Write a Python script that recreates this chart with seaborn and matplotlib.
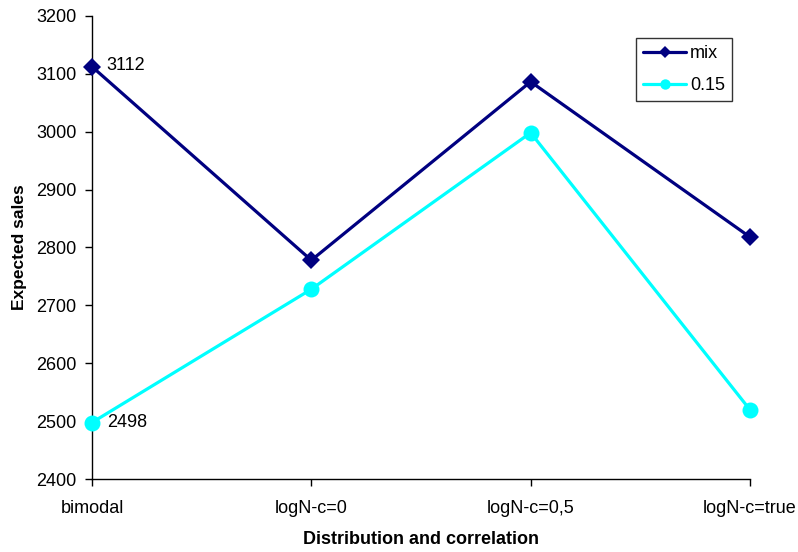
import matplotlib
matplotlib.use("Agg")
import matplotlib.pyplot as plt
import seaborn as sns
import pandas as pd

categories = ["bimodal", "logN-c=0", "logN-c=0,5", "logN-c=true"]
mix_values = [3112, 2778, 3086, 2818]
p015_values = [2498, 2728, 2998, 2520]
y_ticks = [2400, 2500, 2600, 2700, 2800, 2900, 3000, 3100, 3200]

sns.set_theme(style="white")
plt.rcParams["font.family"] = ["Liberation Sans", "DejaVu Sans"]
plt.rcParams["text.color"] = "black"
plt.rcParams["axes.labelcolor"] = "black"

df_mix = pd.DataFrame({"pos": range(len(categories)), "value": mix_values})
df_p = pd.DataFrame({"pos": range(len(categories)), "value": p015_values})

fig = plt.figure(figsize=(7.98, 5.52), dpi=100)
ax = fig.add_axes([0.1153, 0.1317, 0.8245, 0.8399])

sns.lineplot(data=df_mix, x="pos", y="value", ax=ax, color="#000080",
             marker="D", markersize=9.5, markeredgewidth=0, linewidth=2.3,
             label="mix", clip_on=False, zorder=3)
sns.lineplot(data=df_p, x="pos", y="value", ax=ax, color="#00FFFF",
             marker="o", markersize=11.5, markeredgewidth=0, linewidth=2.3,
             label="0.15", clip_on=False, zorder=3)

# value labels on the first category
ax.annotate(str(mix_values[0]), (0, mix_values[0]), xytext=(10, 1),
            textcoords="offset points", va="center", ha="left", fontsize=13)
ax.annotate(str(p015_values[0]), (0, p015_values[0]), xytext=(11, 0),
            textcoords="offset points", va="center", ha="left", fontsize=13)

ax.set_xlim(0, len(categories) - 1)
ax.set_ylim(y_ticks[0], y_ticks[-1])
ax.set_yticks(y_ticks)
ax.set_xticks(range(len(categories)))
ax.set_xticklabels(categories)
ax.tick_params(axis="both", labelsize=13, direction="out", length=5,
               width=1, color="black", labelcolor="black")
ax.tick_params(axis="x", pad=10)
ax.tick_params(axis="y", pad=6)
ax.xaxis.set_ticks_position("bottom")
ax.yaxis.set_ticks_position("left")

for side in ["top", "right"]:
    ax.spines[side].set_visible(False)
for side in ["left", "bottom"]:
    ax.spines[side].set_color("black")
    ax.spines[side].set_linewidth(1)

ax.set_xlabel("Distribution and correlation", fontsize=13, fontweight="bold",
              labelpad=10)
ax.set_ylabel("Expected sales", fontsize=12.5, fontweight="bold", labelpad=7)

leg = ax.legend(loc="upper left", bbox_to_anchor=(0.8267, 0.9525),
                borderaxespad=0, fontsize=13, frameon=True, fancybox=False,
                handlelength=2.4, handletextpad=0.2, borderpad=0.4,
                labelspacing=0.85, markerscale=0.65)
leg.get_frame().set_edgecolor("black")
leg.get_frame().set_linewidth(1)

fig.savefig("out.png", dpi=100)
